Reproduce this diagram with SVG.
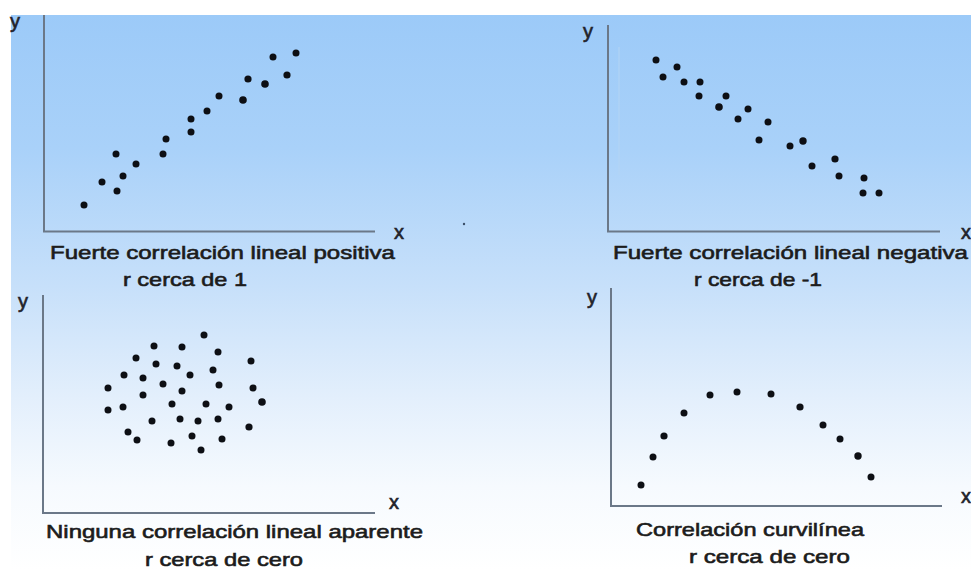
<svg xmlns="http://www.w3.org/2000/svg" width="971" height="570" viewBox="0 0 971 570">
<defs>
<linearGradient id="bg" x1="0" y1="15" x2="0" y2="570" gradientUnits="userSpaceOnUse">
<stop offset="0" stop-color="#9ccaf8"/>
<stop offset="0.24" stop-color="#a9d1f9"/>
<stop offset="0.49" stop-color="#c7e0fa"/>
<stop offset="0.69" stop-color="#e3effc"/>
<stop offset="0.85" stop-color="#f6fafe"/>
<stop offset="1" stop-color="#ffffff"/>
</linearGradient>
</defs>
<style>
.axis{stroke:#6b7888;stroke-width:2;fill:none}
.dot{fill:#0d0f14}
.lbl{font-family:"Liberation Sans",Arial,sans-serif;font-size:19px;fill:#1c1c1c;stroke:#1c1c1c;stroke-width:0.6}
.ax{font-family:"Liberation Sans",Arial,sans-serif;font-size:20px;fill:#22232a;stroke:#22232a;stroke-width:0.6}
</style>
<rect x="0" y="0" width="971" height="570" fill="#ffffff"/>
<rect x="11" y="15" width="960" height="555" fill="url(#bg)"/>
<circle cx="464" cy="224" r="1.2" fill="#3a4e68"/>

<g id="panel-positive">
<line class="axis" x1="44" y1="15" x2="44" y2="232"/>
<line class="axis" x1="43" y1="231.5" x2="375" y2="231.5"/>
<text class="ax" x="10" y="28">y</text>
<text class="ax" x="394" y="239">x</text>
<g>
<circle class="dot" cx="84" cy="205" r="3.5"/>
<circle class="dot" cx="102" cy="182" r="3.5"/>
<circle class="dot" cx="117" cy="191" r="3.5"/>
<circle class="dot" cx="116" cy="154" r="3.5"/>
<circle class="dot" cx="123" cy="176" r="3.5"/>
<circle class="dot" cx="136" cy="164" r="3.5"/>
<circle class="dot" cx="163" cy="154" r="3.5"/>
<circle class="dot" cx="166" cy="139" r="3.5"/>
<circle class="dot" cx="191" cy="119" r="3.5"/>
<circle class="dot" cx="191" cy="132" r="3.5"/>
<circle class="dot" cx="207" cy="111" r="3.5"/>
<circle class="dot" cx="219" cy="96" r="3.5"/>
<circle class="dot" cx="243" cy="100" r="3.8"/>
<circle class="dot" cx="248" cy="79" r="3.6"/>
<circle class="dot" cx="265" cy="84" r="3.8"/>
<circle class="dot" cx="273" cy="57" r="3.5"/>
<circle class="dot" cx="287" cy="75" r="3.6"/>
<circle class="dot" cx="296" cy="53" r="3.5"/>
</g>
<text class="lbl" x="50" y="259" textLength="345" lengthAdjust="spacingAndGlyphs">Fuerte correlación lineal positiva</text>
<text class="lbl" x="123" y="286" textLength="124" lengthAdjust="spacingAndGlyphs">r cerca de 1</text>
</g>

<g id="panel-negative">
<line class="axis" x1="608" y1="25" x2="608" y2="232"/>
<line class="axis" x1="607" y1="231.5" x2="940" y2="231.5"/>
<line x1="619" y1="47" x2="619" y2="175" stroke="#b3d4f4" stroke-width="1"/>
<text class="ax" x="583" y="38">y</text>
<text class="ax" x="961" y="239">x</text>
<g>
<circle class="dot" cx="656" cy="60" r="3.5"/>
<circle class="dot" cx="663" cy="77" r="3.5"/>
<circle class="dot" cx="677" cy="67" r="3.5"/>
<circle class="dot" cx="684" cy="82" r="3.5"/>
<circle class="dot" cx="700" cy="82" r="3.5"/>
<circle class="dot" cx="699" cy="96" r="3.5"/>
<circle class="dot" cx="719" cy="107" r="3.8"/>
<circle class="dot" cx="726" cy="96" r="3.5"/>
<circle class="dot" cx="748" cy="109" r="3.5"/>
<circle class="dot" cx="738" cy="119" r="3.5"/>
<circle class="dot" cx="768" cy="122" r="3.5"/>
<circle class="dot" cx="759" cy="140" r="3.5"/>
<circle class="dot" cx="790" cy="146" r="3.5"/>
<circle class="dot" cx="803" cy="141" r="3.7"/>
<circle class="dot" cx="812" cy="166" r="3.5"/>
<circle class="dot" cx="835" cy="159" r="3.6"/>
<circle class="dot" cx="839" cy="176" r="3.5"/>
<circle class="dot" cx="864" cy="178" r="3.5"/>
<circle class="dot" cx="863" cy="193" r="3.5"/>
<circle class="dot" cx="879" cy="193" r="3.5"/>
</g>
<text class="lbl" x="613" y="259" textLength="355" lengthAdjust="spacingAndGlyphs">Fuerte correlación lineal negativa</text>
<text class="lbl" x="694" y="286" textLength="128" lengthAdjust="spacingAndGlyphs">r cerca de -1</text>
</g>

<g id="panel-none">
<line class="axis" x1="43" y1="295" x2="43" y2="514"/>
<line class="axis" x1="42" y1="513" x2="375" y2="513"/>
<text class="ax" x="18" y="308">y</text>
<text class="ax" x="389" y="509">x</text>
<g>
<circle class="dot" cx="204" cy="335" r="3.5"/>
<circle class="dot" cx="154" cy="346" r="3.5"/>
<circle class="dot" cx="182" cy="347" r="3.5"/>
<circle class="dot" cx="218" cy="352" r="3.5"/>
<circle class="dot" cx="136" cy="358" r="3.5"/>
<circle class="dot" cx="251" cy="361" r="3.5"/>
<circle class="dot" cx="156" cy="364" r="3.5"/>
<circle class="dot" cx="177" cy="366" r="3.5"/>
<circle class="dot" cx="213" cy="370" r="3.5"/>
<circle class="dot" cx="124" cy="375" r="3.5"/>
<circle class="dot" cx="190" cy="375" r="3.5"/>
<circle class="dot" cx="143" cy="378" r="3.5"/>
<circle class="dot" cx="163" cy="384" r="3.5"/>
<circle class="dot" cx="219" cy="385" r="3.5"/>
<circle class="dot" cx="108" cy="388" r="3.5"/>
<circle class="dot" cx="253" cy="388" r="3.5"/>
<circle class="dot" cx="182" cy="391" r="3.5"/>
<circle class="dot" cx="143" cy="395" r="3.5"/>
<circle class="dot" cx="262" cy="402" r="3.8"/>
<circle class="dot" cx="172" cy="404" r="3.5"/>
<circle class="dot" cx="206" cy="404" r="3.5"/>
<circle class="dot" cx="123" cy="407" r="3.5"/>
<circle class="dot" cx="108" cy="410" r="3.5"/>
<circle class="dot" cx="229" cy="407" r="3.5"/>
<circle class="dot" cx="152" cy="421" r="3.5"/>
<circle class="dot" cx="180" cy="419" r="3.5"/>
<circle class="dot" cx="198" cy="421" r="3.5"/>
<circle class="dot" cx="218" cy="419" r="3.5"/>
<circle class="dot" cx="249" cy="427" r="3.6"/>
<circle class="dot" cx="128" cy="432" r="3.5"/>
<circle class="dot" cx="137" cy="440" r="3.5"/>
<circle class="dot" cx="192" cy="436" r="3.5"/>
<circle class="dot" cx="222" cy="439" r="3.5"/>
<circle class="dot" cx="171" cy="443" r="3.5"/>
<circle class="dot" cx="201" cy="450" r="3.5"/>
</g>
<text class="lbl" x="46" y="538" textLength="377" lengthAdjust="spacingAndGlyphs">Ninguna correlación lineal aparente</text>
<text class="lbl" x="145" y="566" textLength="158" lengthAdjust="spacingAndGlyphs">r cerca de cero</text>
</g>

<g id="panel-curvilinear">
<line class="axis" x1="611" y1="288" x2="611" y2="507"/>
<line class="axis" x1="610" y1="506" x2="942" y2="506"/>
<text class="ax" x="587" y="304">y</text>
<text class="ax" x="961" y="503">x</text>
<g>
<circle class="dot" cx="641" cy="485" r="3.5"/>
<circle class="dot" cx="653" cy="457" r="3.5"/>
<circle class="dot" cx="664" cy="436" r="3.6"/>
<circle class="dot" cx="684" cy="413" r="3.5"/>
<circle class="dot" cx="710" cy="395" r="3.5"/>
<circle class="dot" cx="737" cy="392" r="3.5"/>
<circle class="dot" cx="771" cy="394" r="3.5"/>
<circle class="dot" cx="800" cy="407" r="3.6"/>
<circle class="dot" cx="823" cy="425" r="3.5"/>
<circle class="dot" cx="840" cy="439" r="3.5"/>
<circle class="dot" cx="858" cy="456" r="3.7"/>
<circle class="dot" cx="871" cy="477" r="3.5"/>
</g>
<text class="lbl" x="636" y="536" textLength="228" lengthAdjust="spacingAndGlyphs">Correlación curvilínea</text>
<text class="lbl" x="689" y="563" textLength="161" lengthAdjust="spacingAndGlyphs">r cerca de cero</text>
</g>
</svg>
